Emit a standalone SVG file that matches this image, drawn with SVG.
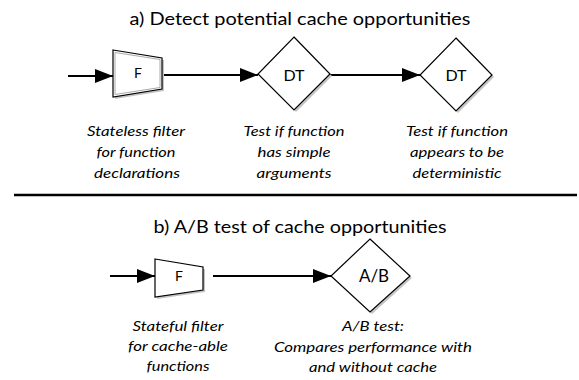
<svg xmlns="http://www.w3.org/2000/svg" width="579" height="380" viewBox="0 0 579 380">
<style>
.t{font-family:Lato,"Liberation Sans",sans-serif;font-size:16.5px;fill:#000;text-anchor:middle}
.c{font-family:Lato,"Liberation Sans",sans-serif;font-size:13.5px;font-style:italic;fill:#000;text-anchor:middle}
.n{font-family:Lato,"Liberation Sans",sans-serif;font-size:16px;fill:#000;text-anchor:middle}
.f{font-family:Lato,"Liberation Sans",sans-serif;font-size:14px;fill:#000;text-anchor:middle}
.shape{fill:#fff;stroke:#000;stroke-width:1.2}
.shadow{fill:#c4c4c4;stroke:none}
.bevel{fill:none;stroke:#aaa;stroke-width:1}
.conn{stroke:#000;stroke-width:2;fill:none}
</style>
<defs>
<marker id="ah" viewBox="0 0 18 14" refX="18" refY="7" markerWidth="18" markerHeight="14" markerUnits="userSpaceOnUse" orient="auto">
<path d="M0,0 L18,7 L0,14 z" fill="#000"/>
</marker>
</defs>
<rect width="579" height="380" fill="#fff"/>

<text class="t" x="300" y="25" textLength="341" lengthAdjust="spacingAndGlyphs">a) Detect potential cache opportunities</text>
<text class="t" x="300" y="233" textLength="293" lengthAdjust="spacingAndGlyphs">b) A/B test of cache opportunities</text>

<g id="connectors">
<line class="conn" x1="68" y1="76" x2="113" y2="76" marker-end="url(#ah)"/>
<line class="conn" x1="164" y1="75" x2="258" y2="75" marker-end="url(#ah)"/>
<line class="conn" x1="330" y1="75" x2="420" y2="75" marker-end="url(#ah)"/>
<line class="conn" x1="110" y1="276" x2="155" y2="276" marker-end="url(#ah)"/>
<line class="conn" x1="213" y1="276" x2="331" y2="276" marker-end="url(#ah)"/>
</g>

<line x1="14" y1="195" x2="577" y2="195" stroke="#000" stroke-width="2.5"/>

<g id="filter1">
<polygon class="shadow" points="115,52 164,60 164,91 115,99"/>
<polygon class="shape" points="113,50 162,58 162,89 113,97"/>
<polygon class="bevel" points="115,52.5 160,59.5 160,87.5 115,94.5"/>
<text class="f" x="138" y="78">F</text>
<text class="c" x="136" y="136" textLength="98" lengthAdjust="spacingAndGlyphs">Stateless filter</text>
<text class="c" x="136" y="157" textLength="79" lengthAdjust="spacingAndGlyphs">for function</text>
<text class="c" x="137" y="178" textLength="86" lengthAdjust="spacingAndGlyphs">declarations</text>
</g>

<g id="dt1">
<polygon class="shadow" points="296,39 332,76 296,112 260,76"/>
<polygon class="shape" points="294,37 330,74 294,110 258,74"/>
<text class="n" x="294" y="81">DT</text>
<text class="c" x="294" y="136" textLength="101" lengthAdjust="spacingAndGlyphs">Test if function</text>
<text class="c" x="294" y="157" textLength="73" lengthAdjust="spacingAndGlyphs">has simple</text>
<text class="c" x="294" y="178" textLength="75" lengthAdjust="spacingAndGlyphs">arguments</text>
</g>

<g id="dt2">
<polygon class="shadow" points="458,40 494,77 458,113 422,77"/>
<polygon class="shape" points="456,38 492,75 456,111 420,75"/>
<text class="n" x="456" y="81">DT</text>
<text class="c" x="457" y="136" textLength="102" lengthAdjust="spacingAndGlyphs">Test if function</text>
<text class="c" x="457" y="157" textLength="94" lengthAdjust="spacingAndGlyphs">appears to be</text>
<text class="c" x="457" y="178" textLength="89" lengthAdjust="spacingAndGlyphs">deterministic</text>
</g>

<g id="filter2">
<polygon class="shadow" points="157,261 205,269 205,292 157,299"/>
<polygon class="shape" points="155,259 203,267 203,290 155,297"/>
<text class="f" x="179" y="281">F</text>
<text class="c" x="178" y="331" textLength="91" lengthAdjust="spacingAndGlyphs">Stateful filter</text>
<text class="c" x="178" y="351" textLength="100" lengthAdjust="spacingAndGlyphs">for cache-able</text>
<text class="c" x="178" y="371" textLength="63" lengthAdjust="spacingAndGlyphs">functions</text>
</g>

<g id="ab">
<polygon class="shadow" points="372,241 412,278 372,314 333,278"/>
<polygon class="shape" points="370,239 410,276 370,312 331,276"/>
<text class="n" x="374" y="282" style="font-size:17px">A/B</text>
<text class="c" x="373" y="331" textLength="62" lengthAdjust="spacingAndGlyphs">A/B test:</text>
<text class="c" x="373" y="352" textLength="198" lengthAdjust="spacingAndGlyphs">Compares performance with</text>
<text class="c" x="373" y="372" textLength="128" lengthAdjust="spacingAndGlyphs">and without cache</text>
</g>
</svg>
